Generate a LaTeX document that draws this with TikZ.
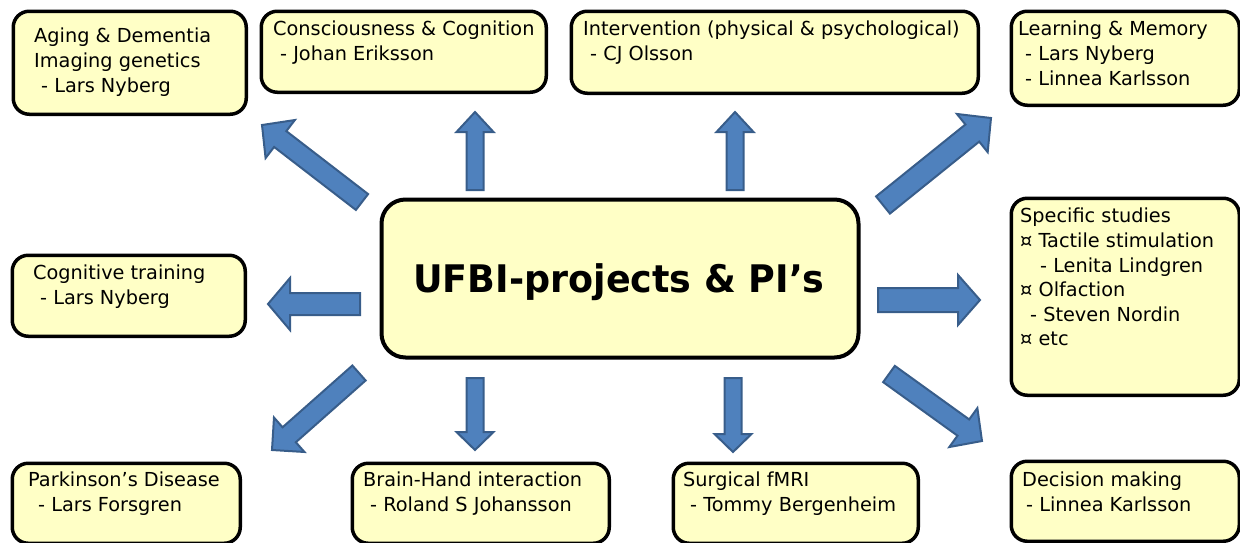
\documentclass[tikz,border=0pt]{standalone}
\usepackage{fontspec}
\setmainfont{DejaVu Sans}
\usetikzlibrary{calc}
\definecolor{boxfill}{RGB}{255,255,198}
\definecolor{arrowfill}{RGB}{79,129,189}
\definecolor{arrowline}{RGB}{56,93,138}

% block arrow: tail, tip, half shaft, half head, head length
\newcommand{\blockarrow}[5]{%
\path ($(#2)!#5pt!(#1)$) coordinate (hb);
\draw[bluearrow] ($(#1)!#3pt!90:(#2)$) -- ($(hb)!#3pt!90:(#2)$) -- ($(hb)!#4pt!90:(#2)$) -- (#2)
  -- ($(hb)!#4pt!-90:(#2)$) -- ($(hb)!#3pt!-90:(#2)$) -- ($(#1)!#3pt!-90:(#2)$) -- cycle;}

\begin{document}
\begin{tikzpicture}[x=1pt,y=-1pt,
  box/.style={draw, line width=3.5pt, rounded corners=16pt, fill=boxfill, anchor=north west, inner sep=0pt},
  txt/.style={anchor=north west, inner sep=0pt, align=left, font=\fontsize{19.3}{24.6}\selectfont},
  bluearrow/.style={fill=arrowfill, draw=arrowline, line width=2pt, line join=miter}]
\clip (0,0) rectangle (1240,542);

% Top row
\node[box, minimum width=233pt, minimum height=103pt] (aging) at (11.5,9.5) {};
\node[txt] (agingtxt) at (34,28) {Aging \& Dementia\\Imaging genetics\\\hspace*{7pt}- Lars Nyberg};
\node[box, minimum width=285pt, minimum height=81pt] (consc) at (259.5,9.5) {};
\node[txt] (consctxt) at (273,21) {Consciousness \& Cognition\\\hspace*{7pt}- Johan Eriksson};
\node[box, minimum width=407pt, minimum height=82pt] (interv) at (569.5,9.5) {};
\node[txt] (intervtxt) at (583,21) {Intervention (physical \& psychological)\\\hspace*{7pt}- CJ Olsson};
\node[box, minimum width=228pt, minimum height=94pt] (learn) at (1009.5,9.5) {};
\node[txt] (learntxt) at (1018,21) {Learning \& Memory\\\hspace*{7pt}- Lars Nyberg\\\hspace*{7pt}- Linnea Karlsson};

% Middle row
\node[box, minimum width=233pt, minimum height=81pt] (cogn) at (10.5,253.5) {};
\node[txt] (cogntxt) at (33,265) {Cognitive training\\\hspace*{7pt}- Lars Nyberg};
\node[box, line width=4pt, rounded corners=24pt, minimum width=477pt, minimum height=158pt] (center) at (379.5,197.5) {};
\node[anchor=base, inner sep=0pt, font=\fontsize{38}{40}\bfseries\selectfont] (title) at (619,292) {\scalebox{0.96}[1]{UFBI-projects \& PI’s}};
\node[box, minimum width=228pt, minimum height=197pt] (spec) at (1009.5,196.5) {};
\node[txt] (spectxt) at (1020,208) {Specific studies\\¤ Tactile stimulation\\\hspace*{20pt}- Lenita Lindgren\\¤ Olfaction\\\hspace*{10pt}- Steven Nordin\\¤ etc};

% Bottom row
\node[box, minimum width=228pt, minimum height=80pt] (park) at (10.5,461.5) {};
\node[txt] (parktxt) at (28,472) {Parkinson’s Disease\\\hspace*{10pt}- Lars Forsgren};
\node[box, minimum width=257pt, minimum height=80pt] (brain) at (350.5,461.5) {};
\node[txt] (braintxt) at (363,472) {Brain-Hand interaction\\\hspace*{7pt}- Roland S Johansson};
\node[box, minimum width=245pt, minimum height=80pt] (fmri) at (671.5,461.5) {};
\node[txt] (fmritxt) at (683,472) {Surgical fMRI\\\hspace*{7pt}- Tommy Bergenheim};
\node[box, minimum width=228pt, minimum height=80pt] (decis) at (1009.5,459.5) {};
\node[txt] (decistxt) at (1022,472) {Decision making\\\hspace*{4pt}- Linnea Karlsson};

% Arrows
\coordinate (a1s) at (362,202);  \coordinate (a1e) at (262,125);
\coordinate (a2s) at (475,190);  \coordinate (a2e) at (475,112);
\coordinate (a3s) at (735,190);  \coordinate (a3e) at (735,112);
\coordinate (a4s) at (883,205);  \coordinate (a4e) at (991,118);
\coordinate (a5s) at (360,304);  \coordinate (a5e) at (268,304);
\coordinate (a6s) at (878,300);  \coordinate (a6e) at (980,300);
\coordinate (a7s) at (359,373);  \coordinate (a7e) at (272,450);
\coordinate (a8s) at (475,378);  \coordinate (a8e) at (475,450);
\coordinate (a9s) at (733,378);  \coordinate (a9e) at (733,452);
\coordinate (a10s) at (889,374); \coordinate (a10e) at (982,441);
\blockarrow{a1s}{a1e}{10}{24}{23}
\blockarrow{a2s}{a2e}{8.5}{18.5}{20}
\blockarrow{a3s}{a3e}{8.5}{18.5}{20}
\blockarrow{a4s}{a4e}{11}{24.5}{24}
\blockarrow{a5s}{a5e}{11}{26}{22}
\blockarrow{a6s}{a6e}{12}{25}{22}
\blockarrow{a7s}{a7e}{10}{23}{23}
\blockarrow{a8s}{a8e}{8.5}{18.5}{18}
\blockarrow{a9s}{a9e}{8.5}{18.5}{18}
\blockarrow{a10s}{a10e}{10}{24}{23}
\end{tikzpicture}
\end{document}
